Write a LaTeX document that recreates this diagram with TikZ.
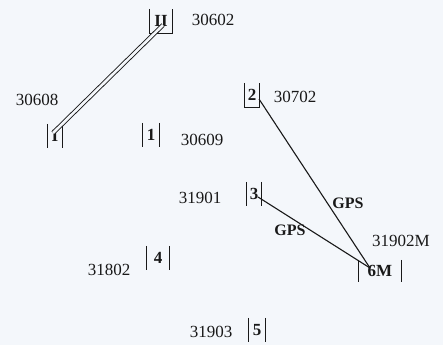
\documentclass[tikz,border=0pt]{standalone}
\usepackage{fontspec}
\setmainfont{Liberation Serif}
\definecolor{bg}{RGB}{244,247,251}
\definecolor{ink}{RGB}{25,25,25}
\begin{document}
\begin{tikzpicture}[x=1pt,y=-1pt,
  pointbox/.style={inner sep=0pt, font=\bfseries\fontsize{17}{17}\selectfont, text=ink, minimum height=24pt},
  numlabel/.style={inner sep=0pt, font=\fontsize{17}{17}\selectfont, text=ink},
  gpslabel/.style={inner sep=0pt, font=\bfseries\fontsize{16}{16}\selectfont, text=ink},
  bar/.style={draw=ink, line width=1pt},
  link/.style={draw=ink, line width=1.1pt},
  baseline/.style={draw=ink, line width=0.9pt, double=bg, double distance=2.6pt}]
\fill[bg] (0,0) rectangle (443,345);
\useasboundingbox (0,0) rectangle (443,345);

% points
\node[pointbox, minimum width=23pt] (II) at (161,21) {II};
\node[pointbox, minimum width=15pt] (I) at (55,136) {I};
\node[pointbox, minimum width=16pt] (p1) at (151,135) {1};
\node[pointbox, minimum width=14pt] (p2) at (252,95) {2};
\node[pointbox, minimum width=15pt] (p3) at (254,194) {3};
\node[pointbox, minimum width=22pt] (p4) at (158,258) {4};
\node[pointbox, minimum width=16pt] (p5) at (257,330) {5};
\node[pointbox, minimum width=43pt, minimum height=22pt] (p6) at (380,271) {6M};

% bars
\foreach \n in {I,p1,p3,p4,p5,p6}{
  \draw[bar] (\n.north west) -- (\n.south west) (\n.north east) -- (\n.south east);
}
\foreach \n in {II,p2}{
  \draw[bar] (\n.north west) -- (\n.south west) -- (\n.south east) -- (\n.north east);
}

% numbers
\node[numlabel] (n30602) at (213,20) {30602};
\node[numlabel] (n30608) at (37,100) {30608};
\node[numlabel] (n30609) at (202,140) {30609};
\node[numlabel] (n30702) at (295,97) {30702};
\node[numlabel] (n31901) at (200,198) {31901};
\node[numlabel] (n31902M) at (401,241) {31902M};
\node[numlabel] (n31802) at (109,270) {31802};
\node[numlabel] (n31903) at (211,332) {31903};

% connector end points
\coordinate (IIe) at ([shift={(2,4)}]II.center);
\coordinate (Ie) at ([shift={(-2,-3)}]I.center);
\coordinate (p2e) at ([shift={(7,4)}]p2.center);
\coordinate (p3e) at ([shift={(4,3)}]p3.center);
\coordinate (p6e) at ([shift={(-10,-3)}]p6.center);

\path[baseline] (IIe) -- (Ie);
\path[link] (p2e) -- (p6e);
\path[link] (p3e) -- (p6e);

\node[gpslabel] (gps1) at (348,203) {GPS};
\node[gpslabel] (gps2) at (290,230) {GPS};
\end{tikzpicture}
\end{document}
